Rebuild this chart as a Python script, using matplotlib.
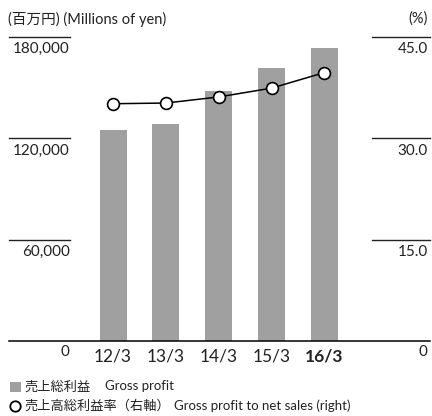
import matplotlib
matplotlib.use("Agg")
import matplotlib.pyplot as plt
import matplotlib.transforms as mtransforms
from matplotlib.patches import Rectangle
from matplotlib.lines import Line2D

plt.rcParams['font.family'] = ['Lato', 'Noto Sans CJK JP', 'DejaVu Sans']

categories = ["12/3", "13/3", "14/3", "15/3", "16/3"]
gross_profit = [125000, 128700, 148100, 161700, 173500]
ratio = [35.1, 35.2, 36.1, 37.4, 39.7]
left_ticks = [60000, 120000, 180000]
left_labels = ["60,000", "120,000", "180,000"]
right_ticks = [15.0, 30.0, 45.0]
right_labels = ["15.0", "30.0", "45.0"]

W, H = 432, 416
fig = plt.figure(figsize=(W / 100, H / 100), dpi=100)
ax_l, ax_r_px, ax_t, ax_b = 9, 430, 36.7, 341.3
ax = fig.add_axes([ax_l / W, (H - ax_b) / H, (ax_r_px - ax_l) / W, (ax_b - ax_t) / H])
ax.set_xlim(-1.97, 6.0)
ax.set_ylim(0, 180000)
for s in ax.spines.values():
    s.set_visible(False)
ax.set_xticks([])
ax.set_yticks([])
ax.patch.set_alpha(0)

x = list(range(len(categories)))
ax.bar(x, gross_profit, width=0.51, color='#a0a0a0', zorder=2)

ax2 = ax.twinx()
ax2.set_ylim(0, 45)
for s in ax2.spines.values():
    s.set_visible(False)
ax2.set_yticks([])
ax2.plot(x, ratio, color='black', lw=1.1, marker='o', markersize=8.5,
         markerfacecolor='white', markeredgecolor='black', markeredgewidth=1.2, zorder=3)

# baseline
ax.axhline(0, color='black', lw=1.1, zorder=4, clip_on=False)

lw_frac = (70 - ax_l) / (ax_r_px - ax_l)
rw_frac = (371.7 - ax_l) / (ax_r_px - ax_l)
tl = mtransforms.blended_transform_factory(ax.transAxes, ax.transData)
tr = mtransforms.blended_transform_factory(ax2.transAxes, ax2.transData)
off = mtransforms.ScaledTranslation(0, -12.5 / 100, fig.dpi_scale_trans)
for v, lab in zip(left_ticks, left_labels):
    ax.plot([0, lw_frac], [v, v], transform=tl, color='#222222', lw=1.0, clip_on=False)
    ax.text(lw_frac, v, lab, transform=tl + off, ha='right', va='center', fontsize=11, color='#222222')
for v, lab in zip(right_ticks, right_labels):
    ax2.plot([rw_frac, 1], [v, v], transform=tr, color='#222222', lw=1.0, clip_on=False)
    ax2.text(1 - 2 / (ax_r_px - ax_l), v, lab, transform=tr + off, ha='right', va='center', fontsize=11, color='#222222')

# zero labels
fig.text(65 / W, 1 - 352 / H, "0", ha='center', va='center', fontsize=11, color='#222222')
fig.text(423 / W, 1 - 352 / H, "0", ha='center', va='center', fontsize=11, color='#222222')

# category labels
off2 = mtransforms.ScaledTranslation(0, -15.5 / 100, fig.dpi_scale_trans)
tc = mtransforms.blended_transform_factory(ax.transData, ax.transAxes)
for i, c in enumerate(categories):
    ax.text(i, 0, c, transform=tc + off2, ha='center', va='center', fontsize=12.5,
            fontweight='bold' if i == len(categories) - 1 else 'normal', color='#222222')

# titles
fig.text(8 / W, 1 - 19 / H, "(百万円) (Millions of yen)", ha='left', va='center', fontsize=10.5, color='#222222')
fig.text(428 / W, 1 - 19 / H, "(%)", ha='right', va='center', fontsize=10.5, color='#222222')

# legend
y1, y2 = 386.5, 405.5
fig.patches.append(Rectangle((9.5 / W, 1 - (y1 + 5.5) / H), 11 / W, 10.5 / H, transform=fig.transFigure,
                             facecolor='#a0a0a0', edgecolor='none'))
fig.text(24 / W, 1 - y1 / H, "売上総利益", ha='left', va='center', fontsize=9.5, color='#222222')
fig.text(105 / W, 1 - y1 / H, "Gross profit", ha='left', va='center', fontsize=9.5, color='#222222')
fig.lines.append(Line2D([15 / W], [1 - y2 / H], transform=fig.transFigure, marker='o', markersize=7.5,
                        markerfacecolor='white', markeredgecolor='black', markeredgewidth=1.3, linestyle='none'))
fig.text(24 / W, 1 - y2 / H, "売上高総利益率（右軸）", ha='left', va='center', fontsize=9.5, color='#222222')
fig.text(174 / W, 1 - y2 / H, "Gross profit to net sales (right)", ha='left', va='center', fontsize=9.5, color='#222222')

fig.savefig("out.png", dpi=100)
